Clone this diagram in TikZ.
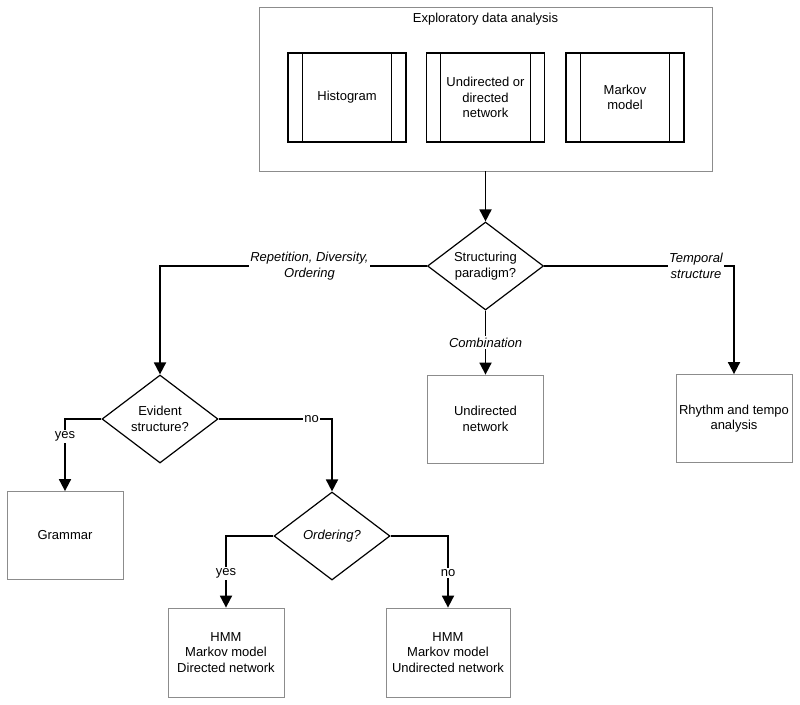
\documentclass[tikz,border=0pt]{standalone}
\usepackage{fontspec}
\setmainfont{Liberation Sans}
\usetikzlibrary{shapes.geometric,arrows.meta}
\definecolor{boxgray}{gray}{0.55}
\newcommand{\fsz}{\fontsize{13}{15.5}\selectfont}
\tikzset{
  plainbox/.style={draw=boxgray,line width=0.8pt,minimum width=116pt,minimum height=88pt,align=center,inner sep=2pt,font=\fsz},
  procbox/.style={draw,line width=1.5pt,minimum width=118pt,minimum height=89pt,align=center,font=\fsz},
  decision/.style={diamond,draw,line width=1.2pt,minimum width=116pt,minimum height=88pt,aspect=1.32,inner sep=0pt,align=center,font=\fsz},
  flow/.style={line width=1.8pt,-{Triangle[width=12pt,length=12pt]}},
  edgelabel/.style={fill=white,inner sep=1.5pt,align=center,font=\fsz\itshape},
  choice/.style={fill=white,inner sep=1.5pt,font=\fsz}
}
\begin{document}
\begin{tikzpicture}[x=1pt,y=-1pt]
\useasboundingbox (0,0) rectangle (800,704);
\node[plainbox,minimum width=453pt,minimum height=164pt] (eda) at (485.5,89) {};
\node[anchor=north,font=\fsz] (edatitle) at ([yshift=-3pt]eda.north) {Exploratory data analysis};
\node[procbox] (hist) at (347,97.5) {Histogram};
\node[procbox] (net) at (485.5,97.5) {Undirected or\\directed\\network};
\node[procbox] (markov) at (625,97.5) {Markov\\model};
\foreach \b in {hist,net,markov} {
  \draw[line width=1pt] ([xshift=15pt]\b.north west) -- ([xshift=15pt]\b.south west);
  \draw[line width=1pt] ([xshift=-15pt]\b.north east) -- ([xshift=-15pt]\b.south east);
}
\node[decision] (par) at (485.5,266) {Structuring\\paradigm?};
\node[decision] (evid) at (160,419) {Evident\\structure?};
\node[decision,font=\fsz\itshape] (ord) at (332,536) {Ordering?};
\node[plainbox] (undir) at (485.5,419) {Undirected\\network};
\node[plainbox] (rhythm) at (734,418.5) {Rhythm and tempo\\analysis};
\node[plainbox] (grammar) at (65,535.5) {Grammar};
\node[plainbox,minimum height=89pt] (hmmA) at (226,652.5) {HMM\\Markov model\\Directed network};
\node[plainbox,minimum width=124pt,minimum height=89pt] (hmmB) at (448,652.5) {HMM\\Markov model\\Undirected network};
\draw[flow] (eda.south) -- (par.north);
\draw[flow] (par.west) -| node[edgelabel,pos=0.22] {Repetition, Diversity,\\Ordering} (evid.north);
\draw[flow] (par.east) -| node[edgelabel,pos=0.4] {Temporal\\structure} (rhythm.north);
\draw[flow] (par.south) -- node[edgelabel] {Combination} (undir.north);
\draw[flow] (evid.west) -| node[choice,pos=0.62] {yes} (grammar.north);
\draw[flow] (evid.east) -| node[choice,pos=0.41] {no} (ord.north);
\draw[flow] (ord.west) -| node[choice,pos=0.76] {yes} (hmmA.north);
\draw[flow] (ord.east) -| node[choice,pos=0.76] {no} (hmmB.north);
\end{tikzpicture}
\end{document}
